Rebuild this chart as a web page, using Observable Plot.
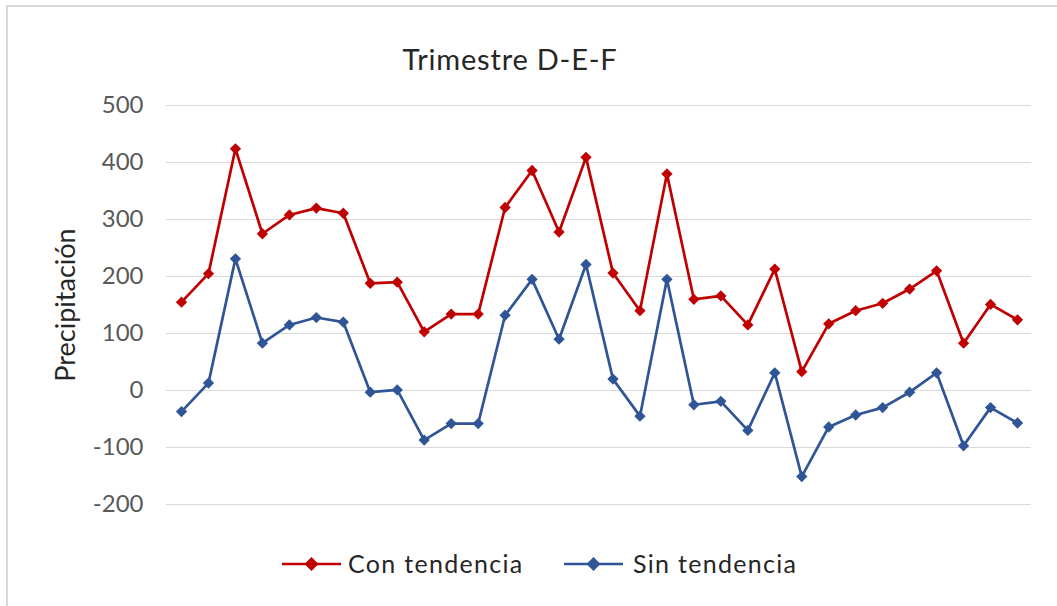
<!DOCTYPE html>
<html><head><meta charset="utf-8">
<script src="https://cdn.jsdelivr.net/npm/d3@7"></script>
<script src="https://cdn.jsdelivr.net/npm/@observablehq/plot@0.6"></script>
<style>
html,body{margin:0;padding:0;background:#fff;}
#wrap{position:relative;width:1057px;height:606px;overflow:hidden;font-family:Lato,sans-serif;}
#frame{position:absolute;left:6px;top:5px;width:1200px;height:800px;border-left:2px solid #d9d9d9;border-top:2px solid #d9d9d9;}
#chart{position:absolute;left:0;top:0;}
#title{position:absolute;left:0;width:1020px;top:44px;text-align:center;font-size:29px;line-height:29px;letter-spacing:0.8px;color:#262626;}
.leg{position:absolute;top:551px;font-size:25px;line-height:25px;letter-spacing:1.3px;color:#262626;white-space:nowrap;}
.sw{position:absolute;top:556px;}
</style>
</head><body>
<div id="wrap">
  <div id="frame"></div>
  <div id="chart"></div>
  <div id="title">Trimestre D-E-F</div>
</div>
<script>
const periods = d3.range(1, 33);
const conTendencia = [155,205,424,275,308,320,311,188,190,103,134,134,321,386,278,409,206,140,380,160,166,115,213,33,117,140,153,178,210,83,151,124];
const sinTendencia = [-37,13,231,83,115,128,120,-3,1,-87,-58,-58,132,195,90,221,20,-45,195,-25,-19,-70,31,-151,-64,-43,-30,-3,31,-97,-30,-57];
const yTicks = [-200,-100,0,100,200,300,400,500];
const seriesNames = ["Con tendencia", "Sin tendencia"];
const seriesColors = ["#C00000", "#2F5597"];

const rows = [];
periods.forEach((p, i) => {
  rows.push({x: p, y: conTendencia[i], s: seriesNames[0]});
  rows.push({x: p, y: sinTendencia[i], s: seriesNames[1]});
});

const plot = Plot.plot({
  width: 1057,
  height: 530,
  marginTop: 105,
  marginBottom: 26,
  marginLeft: 166,
  marginRight: 26,
  style: {fontFamily: "Lato, sans-serif", fontSize: "24px", color: "#595959", background: "transparent"},
  x: {domain: [1, 32], range: [181, 1017], axis: null},
  y: {domain: [-200, 500], ticks: yTicks, axis: null},
  color: {domain: seriesNames, range: seriesColors},
  marks: [
    Plot.ruleY(yTicks, {stroke: "#d9d9d9", strokeWidth: 1}),
    Plot.axisY({ticks: yTicks, tickSize: 0, tickPadding: 23, label: null, fill: "#595959", tickFormat: d => String(d)}),
    Plot.text(["Precipitación"], {frameAnchor: "left", dx: -100, rotate: -90, textAnchor: "middle", fontSize: 27, fill: "#262626"}),
    Plot.line(rows, {x: "x", y: "y", z: "s", stroke: "s", strokeWidth: 2.7}),
    Plot.dot(rows, {x: "x", y: "y", fill: "s", symbol: "diamond2", r: 5.1, stroke: "none"})
  ]
});
document.getElementById("chart").appendChild(plot);

// legend
const wrap = document.getElementById("wrap");
const legPos = [{sw: 282, tx: 348}, {sw: 564, tx: 633}];
seriesNames.forEach((name, i) => {
  const svg = d3.create("svg").attr("class", "sw").attr("width", 59).attr("height", 16)
    .style("left", legPos[i].sw + "px");
  svg.append("line").attr("x1", 0).attr("x2", 59).attr("y1", 8).attr("y2", 8)
    .attr("stroke", seriesColors[i]).attr("stroke-width", 2.7);
  svg.append("path").attr("d", "M29.5,1 L36.5,8 L29.5,15 L22.5,8 Z").attr("fill", seriesColors[i]);
  wrap.appendChild(svg.node());
  const t = document.createElement("div");
  t.className = "leg";
  t.style.left = legPos[i].tx + "px";
  t.textContent = name;
  wrap.appendChild(t);
});
</script>
</body></html>
